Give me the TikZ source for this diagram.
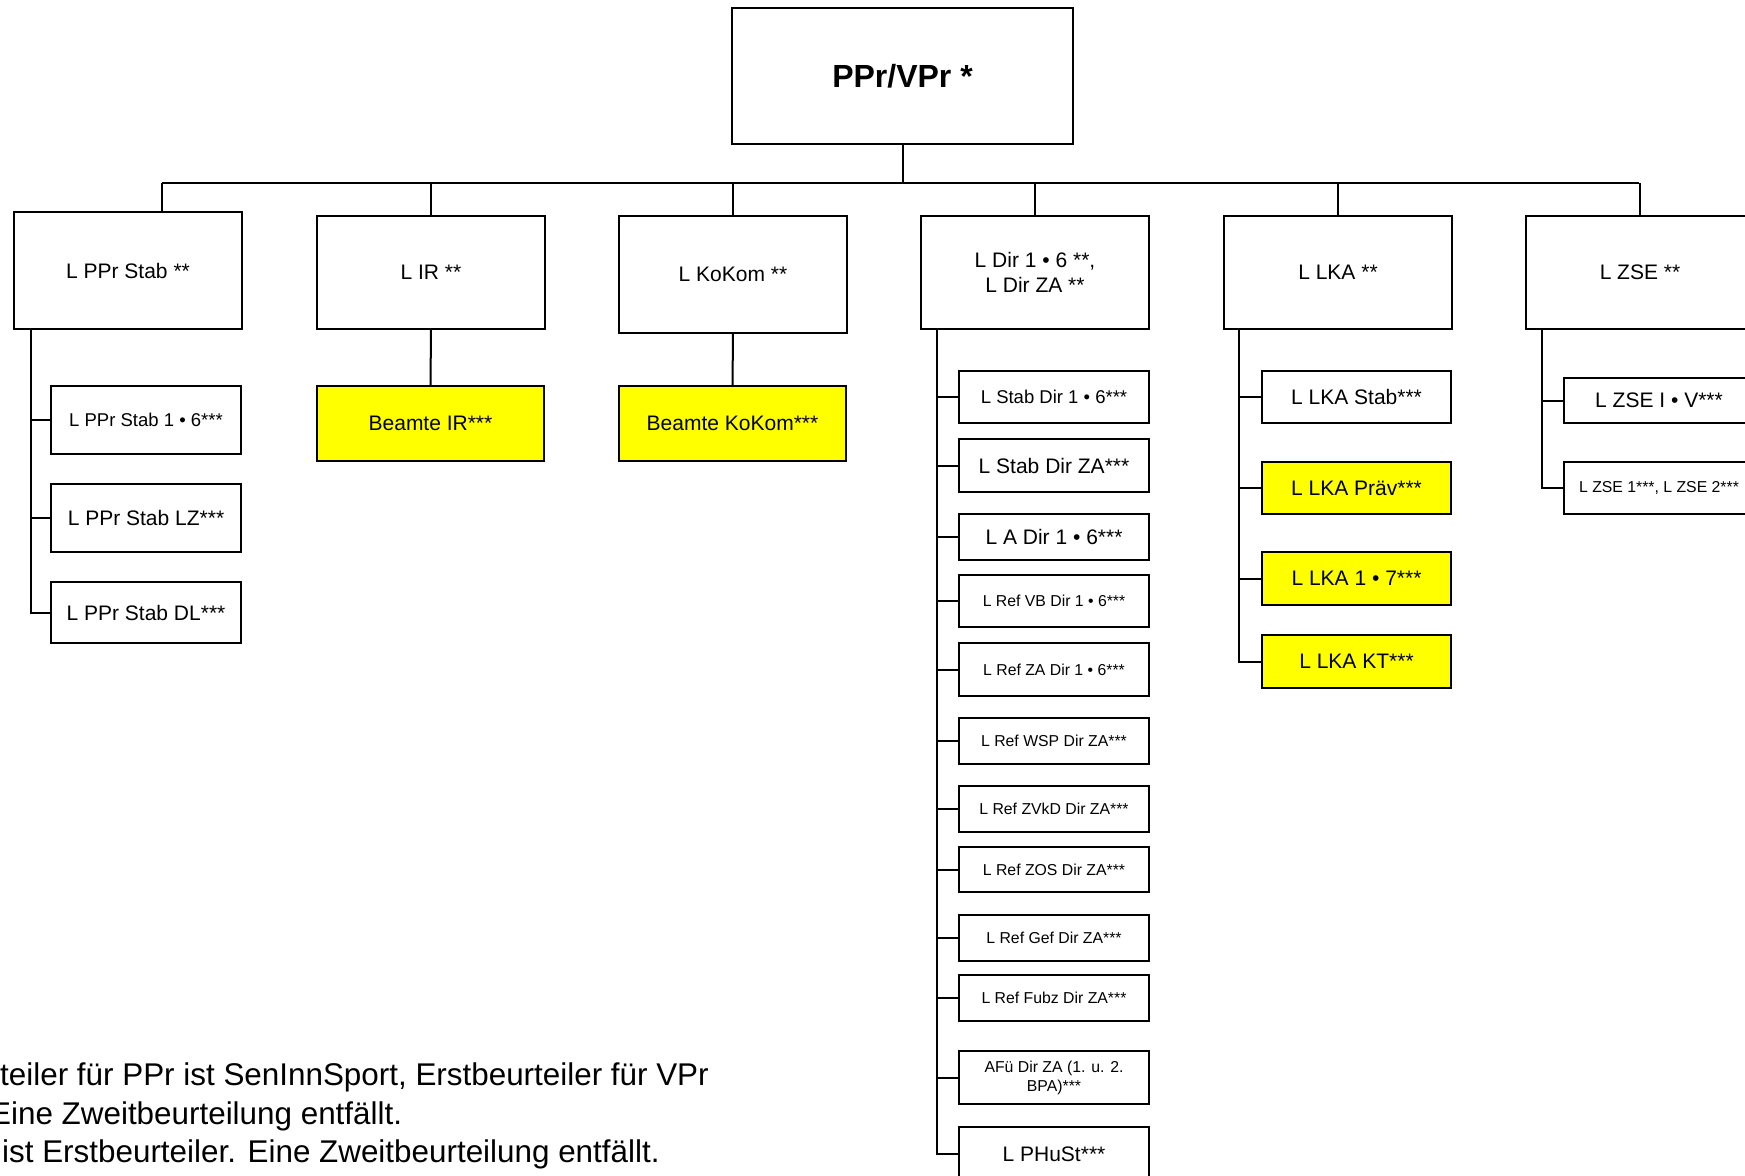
\documentclass[tikz,border=0pt]{standalone}
\usepackage{fontspec}
\setmainfont{Liberation Sans}
\definecolor{hiyellow}{RGB}{255,255,0}
\tikzset{
  box/.style={draw=black, line width=2pt, fill=white, inner sep=0pt, outer sep=0pt,
    align=center, anchor=north west, text=black},
  yel/.style={fill=hiyellow},
  fA/.style={font=\fontsize{21}{25.6}\selectfont},
  fB/.style={font=\fontsize{18.5}{22}\selectfont},
  fC/.style={font=\fontsize{15.8}{19}\selectfont},
  conn/.style={draw=black, line width=2pt},
  note/.style={anchor=base west, inner sep=0pt, font=\fontsize{31.4}{38}\selectfont},
}
\begin{document}
\begin{tikzpicture}[x=1pt, y=-1pt]
\useasboundingbox (0,0) rectangle (1745,1175);
\clip (0,0) rectangle (1745,1175);
% top
\node[box, minimum width=341, minimum height=136, font=\fontsize{32}{38}\selectfont\bfseries] (top) at (732,8) {PPr/VPr *};
% level 2
\node[box, fA, minimum width=228, minimum height=117] (pst) at (14,212) {L PPr Stab **};
\node[box, fA, minimum width=228, minimum height=113] (ir) at (317,216) {L IR **};
\node[box, fA, minimum width=228, minimum height=117] (kok) at (619,216) {L KoKom **};
\node[box, fA, minimum width=228, minimum height=113] (dir) at (921,216) {L Dir 1 • 6 **,\\L Dir ZA **};
\node[box, fA, minimum width=228, minimum height=113] (lka) at (1224,216) {L LKA **};
\node[box, fA, minimum width=228, minimum height=113] (zse) at (1526,216) {L ZSE **};
% bus
\coordinate (busL) at (162,183);
\coordinate (busR) at (1639,183);
\draw[conn] (busL) -- (busR);
\draw[conn] (top.south) -- (top.south |- busL);
\draw[conn] (busL) -- (pst.north -| busL);
\foreach \n in {ir,kok,dir,lka,zse}{\draw[conn] (\n.north) -- (\n.north |- busL);}
% PPr Stab children
\node[box, fB, minimum width=190, minimum height=68] (ps1) at (51,386) {L PPr Stab 1 • 6***};
\node[box, fA, minimum width=190, minimum height=68] (ps2) at (51,484) {L PPr Stab LZ***};
\node[box, fA, minimum width=190, minimum height=61] (ps3) at (51,582) {L PPr Stab DL***};
\coordinate (tA) at (31,0);
\foreach \c in {ps1,ps2,ps3}{\draw[conn] (pst.south -| tA) |- (\c.west);}
% Beamte
\node[box, yel, fA, minimum width=227, minimum height=75] (bir) at (317,386) {Beamte IR***};
\node[box, yel, fA, minimum width=227, minimum height=75] (bkok) at (619,386) {Beamte KoKom***};
\draw[conn] (ir.south) -- (bir.north);
\draw[conn] (kok.south) -- (bkok.north);
% Dir children
\node[box, fB, minimum width=190, minimum height=52] (d1) at (959,371) {L Stab Dir 1 • 6***};
\node[box, fA, minimum width=190, minimum height=53] (d2) at (959,439) {L Stab Dir ZA***};
\node[box, fA, minimum width=190, minimum height=46] (d3) at (959,514) {L A Dir 1 • 6***};
\node[box, fC, minimum width=190, minimum height=52] (d4) at (959,575) {L Ref VB Dir 1 • 6***};
\node[box, fC, minimum width=190, minimum height=53] (d5) at (959,643) {L Ref ZA Dir 1 • 6***};
\node[box, fC, minimum width=190, minimum height=46] (d6) at (959,718) {L Ref WSP Dir ZA***};
\node[box, fC, minimum width=190, minimum height=46] (d7) at (959,786) {L Ref ZVkD Dir ZA***};
\node[box, fC, minimum width=190, minimum height=45] (d8) at (959,847) {L Ref ZOS Dir ZA***};
\node[box, fC, minimum width=190, minimum height=46] (d9) at (959,915) {L Ref Gef Dir ZA***};
\node[box, fC, minimum width=190, minimum height=46] (d10) at (959,975) {L Ref Fubz Dir ZA***};
\node[box, fC, minimum width=190, minimum height=53] (d11) at (959,1051) {AFü Dir ZA (1. u. 2.\\BPA)***};
\node[box, fA, minimum width=190, minimum height=54] (d12) at (959,1127) {L PHuSt***};
\coordinate (tD) at (937,0);
\foreach \c in {d1,d2,d3,d4,d5,d6,d7,d8,d9,d10,d11,d12}{\draw[conn] (dir.south -| tD) |- (\c.west);}
% LKA children
\node[box, fA, minimum width=189, minimum height=52] (l1) at (1262,371) {L LKA Stab***};
\node[box, yel, fA, minimum width=189, minimum height=52] (l2) at (1262,462) {L LKA Präv***};
\node[box, yel, fA, minimum width=189, minimum height=53] (l3) at (1262,552) {L LKA 1 • 7***};
\node[box, yel, fA, minimum width=189, minimum height=53] (l4) at (1262,635) {L LKA KT***};
\coordinate (tL) at (1239,0);
\foreach \c in {l1,l2,l3,l4}{\draw[conn] (lka.south -| tL) |- (\c.west);}
% ZSE children
\node[box, fA, minimum width=190, minimum height=45] (z1) at (1564,378) {L ZSE I • V***};
\node[box, fC, minimum width=190, minimum height=52] (z2) at (1564,462) {L ZSE 1***, L ZSE 2***};
\coordinate (tZ) at (1542,0);
\foreach \c in {z1,z2}{\draw[conn] (zse.south -| tZ) |- (\c.west);}
% notes
\node[note] (n1) at (0,1085) {teiler für PPr ist SenInnSport, Erstbeurteiler für VPr};
\node[note] (n2) at (-10,1124) {Eine Zweitbeurteilung entfällt.};
\node[note] (n3) at (2,1162) {ist Erstbeurteiler. Eine Zweitbeurteilung entfällt.};
\end{tikzpicture}
\end{document}
